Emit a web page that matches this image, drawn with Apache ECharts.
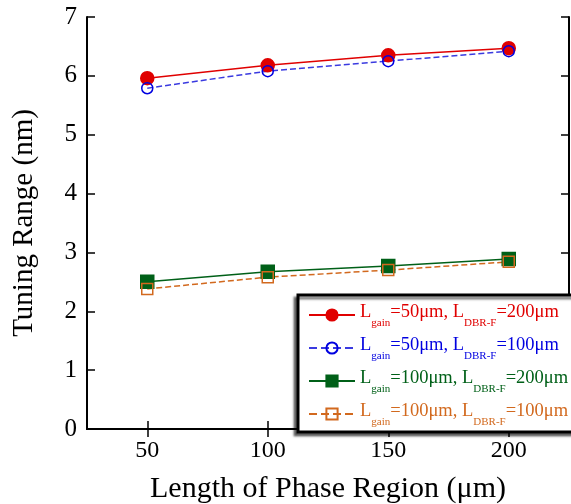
<!DOCTYPE html>
<html><head><meta charset="utf-8">
<script src="https://cdn.jsdelivr.net/npm/echarts@6/dist/echarts.min.js"></script>
<style>html,body{margin:0;padding:0;background:#fff;overflow:hidden}#c{width:571px;height:504px}</style>
</head><body><div id="c"></div>
<script>
var phaseLength = [50, 100, 150, 200];
var redVals = [5.96, 6.18, 6.35, 6.47];
var blueVals = [5.79, 6.08, 6.25, 6.42];
var greenVals = [2.50, 2.67, 2.77, 2.89];
var orangeVals = [2.38, 2.58, 2.70, 2.84];
var xTicks = [50, 100, 150, 200];
var seriesNames = ['s1', 's2', 's3', 's4'];
var legendParts = [
  ['50μm, ', '200μm'],
  ['50μm, ', '100μm'],
  ['100μm, ', '200μm'],
  ['100μm, ', '100μm']
];
var colors = ['#e00000', '#0000e0', '#006018', '#d2691e'];
var lineColors = ['#e00000', '#3a3ae0', '#006018', '#d2691e'];

function pairs(v){ return phaseLength.map(function(x,i){ return [x, v[i]]; }); }
var font = 'Liberation Serif';
var chart = echarts.init(document.getElementById('c'));
function richFor(c){
  return {
    m: {fontSize: 18.5, color: c, fontFamily: font, lineHeight: 28, verticalAlign: 'top', padding:[2,0,0,0]},
    s: {fontSize: 11, color: c, fontFamily: font, lineHeight: 28, verticalAlign: 'bottom'}
  };
}
var allVals = [redVals, blueVals, greenVals, orangeVals];
var symbols = ['circle', 'circle', 'rect', 'rect'];
var sizes = [13, 11, 13, 11];
var fills = ['#e00000', 'rgba(0,0,0,0)', '#006018', 'rgba(0,0,0,0)'];
var types = ['solid', 'dashed', 'solid', 'dashed'];
var series = allVals.map(function(v, i){
  return {
    name: seriesNames[i], type: 'line', data: pairs(v),
    symbol: symbols[i], symbolSize: sizes[i], showAllSymbol: true,
    lineStyle: {color: lineColors[i], width: 1.5, type: types[i]},
    itemStyle: {color: fills[i], borderColor: colors[i], borderWidth: 1.5},
    z: 3, animation: false
  };
});
var axisLine = {show: true, lineStyle: {color: '#000', width: 2}};
var tick = {show: true, inside: true, length: 8, lineStyle: {color: '#000', width: 1.5}};
chart.setOption({
  backgroundColor: '#fff',
  animation: false,
  grid: {left: 87, right: 2, top: 17, bottom: 75, outerBoundsMode: 'none', containLabel: false},
  xAxis: [{
    type: 'value', min: 25, max: 225,
    name: 'Length of Phase Region (μm)', nameLocation: 'middle', nameGap: 45,
    nameTextStyle: {fontFamily: font, fontSize: 30, color: '#000'},
    axisLine: axisLine,
    axisTick: Object.assign({customValues: xTicks}, tick),
    axisLabel: {customValues: xTicks, fontFamily: font, fontSize: 24, color: '#000', margin: 10},
    splitLine: {show: false}
  }, {
    type: 'value', min: 25, max: 225, position: 'top',
    axisLine: axisLine,
    axisTick: Object.assign({customValues: xTicks}, tick),
    axisLabel: {show: false}, splitLine: {show: false}
  }],
  yAxis: [{
    type: 'value', min: 0, max: 7, interval: 1,
    name: 'Tuning Range (nm)', nameLocation: 'middle', nameGap: 48,
    nameTextStyle: {fontFamily: font, fontSize: 29, color: '#000'},
    axisLine: axisLine, axisTick: tick,
    axisLabel: {fontFamily: font, fontSize: 25, color: '#000', margin: 10},
    splitLine: {show: false}
  }, {
    type: 'value', min: 0, max: 7, interval: 1, position: 'right',
    axisLine: axisLine, axisTick: tick,
    axisLabel: {show: false}, splitLine: {show: false}
  }],
  legend: {
    left: 298, top: 295, width: 262,
    orient: 'vertical', itemGap: 5, itemWidth: 46, itemHeight: 14,
    padding: [6, 14, 4, 10],
    backgroundColor: '#fff', borderColor: '#000', borderWidth: 3,
    shadowColor: 'rgba(0,0,0,0.5)', shadowOffsetX: -3, shadowOffsetY: 3, shadowBlur: 2,
    data: seriesNames.map(function(n, i){
      return {name: n, textStyle: {rich: richFor(colors[i])}};
    }),
    formatter: function(name){
      var i = seriesNames.indexOf(name);
      return '{m|L}{s|gain}{m|=' + legendParts[i][0] + 'L}{s|DBR-F}{m|=' + legendParts[i][1] + '}';
    },
    textStyle: {fontFamily: font, fontSize: 18.5}
  },
  series: series
});
</script></body></html>
